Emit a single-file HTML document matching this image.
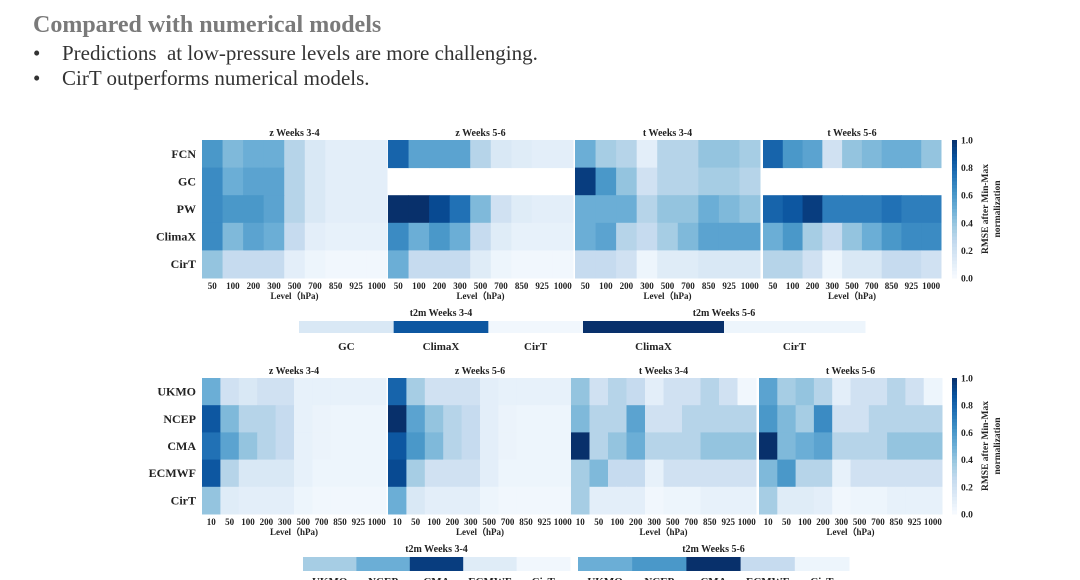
<!DOCTYPE html>
<html><head><meta charset="utf-8">
<style>
html,body{margin:0;padding:0;background:#fff;}
body{width:1080px;height:580px;overflow:hidden;position:relative;font-family:"Liberation Serif",serif;}
#title{position:absolute;left:33px;top:12px;font-size:24px;font-weight:bold;color:#7a7a7a;margin:0;}
.bl{position:absolute;left:33px;font-size:21px;color:#333;}
.bl span{display:inline-block;width:29px;}
svg{position:absolute;left:0;top:0;}
</style></head>
<body>
<h1 id="title">Compared with numerical models</h1>
<div class="bl" style="top:41px"><span>•</span>Predictions&nbsp; at low-pressure levels are more challenging.</div>
<div class="bl" style="top:66px"><span>•</span>CirT outperforms numerical models.</div>
<svg id="chart" width="1080" height="580"></svg>
<script>
// ---- data ----
const topModels = ["FCN","GC","PW","ClimaX","CirT"];
const topLevels = ["50","100","200","300","500","700","850","925","1000"];
const topZ34 = [[.6,.45,.5,.5,.3,.15,.1,.1,.1],[.65,.5,.55,.55,.3,.15,.1,.1,.1],[.65,.6,.6,.55,.3,.15,.1,.1,.1],[.65,.45,.55,.5,.25,.1,.08,.08,.08],[.4,.25,.25,.25,.1,.05,.03,.03,.03]];
const topZ56 = [[.8,.55,.55,.55,.3,.15,.12,.1,.1],null,[1,1,.9,.75,.45,.2,.12,.1,.1],[.65,.5,.6,.5,.25,.12,.08,.08,.08],[.5,.25,.25,.25,.12,.05,.03,.03,.03]];
const topT34 = [[.5,.35,.3,.1,.3,.3,.4,.4,.35],[.95,.6,.4,.2,.3,.3,.35,.35,.3],[.5,.5,.5,.3,.4,.4,.5,.45,.4],[.5,.55,.3,.25,.35,.45,.55,.55,.55],[.25,.25,.2,.05,.12,.12,.15,.15,.15]];
const topT56 = [[.8,.6,.55,.2,.4,.45,.5,.5,.4],null,[.8,.85,.95,.7,.7,.7,.75,.7,.7],[.5,.6,.35,.25,.4,.5,.6,.65,.65],[.3,.3,.2,.05,.15,.15,.25,.25,.2]];
const topT2mCats34 = ["GC","ClimaX","CirT"];
const topT2m34 = [.15,.85,.03];
const topT2mCats56 = ["ClimaX","CirT"];
const topT2m56 = [1,.05];
const botModels = ["UKMO","NCEP","CMA","ECMWF","CirT"];
const botLevels = ["10","50","100","200","300","500","700","850","925","1000"];
const botZ34 = [[.5,.2,.15,.2,.2,.08,.08,.08,.08,.08],[.85,.45,.3,.3,.25,.08,.06,.05,.05,.05],[.75,.55,.4,.3,.25,.08,.06,.05,.05,.05],[.85,.3,.15,.15,.15,.08,.05,.05,.05,.05],[.4,.12,.1,.1,.1,.05,.03,.03,.03,.03]];
const botZ56 = [[.8,.35,.2,.2,.2,.1,.08,.08,.08,.08],[1,.55,.4,.3,.25,.1,.06,.05,.05,.05],[.85,.6,.45,.3,.25,.1,.06,.05,.05,.05],[.9,.35,.2,.2,.2,.1,.05,.05,.05,.05],[.5,.15,.1,.1,.1,.05,.03,.03,.03,.03]];
const botT34 = [[.4,.2,.3,.25,.1,.2,.2,.3,.2,.03],[.45,.3,.3,.55,.2,.2,.3,.3,.3,.3],[1,.3,.4,.5,.3,.3,.3,.4,.4,.4],[.35,.45,.25,.25,.08,.2,.2,.2,.2,.2],[.35,.1,.1,.1,.03,.05,.05,.08,.08,.08]];
const botT56 = [[.55,.35,.4,.3,.1,.2,.2,.3,.2,.05],[.6,.45,.35,.65,.2,.2,.3,.3,.3,.3],[1,.45,.5,.55,.3,.3,.3,.4,.4,.4],[.45,.6,.3,.3,.08,.2,.2,.2,.2,.2],[.35,.12,.12,.1,.03,.05,.05,.08,.08,.08]];
const botT2mCats = ["UKMO","NCEP","CMA","ECMWF","CirT"];
const botT2m34 = [.35,.5,.95,.12,.03];
const botT2m56 = [.5,.6,1,.25,.05];
const cbTicks = ["0.0","0.2","0.4","0.6","0.8","1.0"];

// ---- helpers ----
const stops=["#f7fbff","#deebf7","#c6dbef","#9ecae1","#6baed6","#4292c6","#2171b5","#08519c","#08306b"];
function hex(h){return [1,3,5].map(i=>parseInt(h.substr(i,2),16));}
function blues(v){v=Math.max(0,Math.min(1,v));const p=v*8,i=Math.min(7,Math.floor(p)),f=p-i;const a=hex(stops[i]),b=hex(stops[i+1]);return "rgb("+a.map((c,k)=>Math.round(c+(b[k]-c)*f)).join(",")+")";}
const svg=document.getElementById('chart');
const NS="http://www.w3.org/2000/svg";
function mk(tag,attrs,parent){const e=document.createElementNS(NS,tag);for(const k in attrs)e.setAttribute(k,attrs[k]);(parent||svg).appendChild(e);return e;}
function txt(s,x,y,size,anchor,parent){const t=mk('text',{x:x,y:y,'font-size':size,'font-weight':'bold','text-anchor':anchor||'middle','font-family':'"Liberation Serif",serif',fill:'#222'},parent);t.textContent=s;return t;}

function heatmap(name,title,data,levels,x0,x1,y0,y1){
  const g=mk('g',{});
  
  
  const nc=levels.length,nr=data.length;
  const xs=i=>x0+(x1-x0)*i/nc, ys=j=>y0+(y1-y0)*j/nr;
  data.forEach((row,j)=>{ if(!row) return; row.forEach((v,i)=>{
    const r=mk('rect',{x:xs(i),y:ys(j),width:xs(i+1)-xs(i)+0.5,height:ys(j+1)-ys(j)+0.5,fill:blues(v)},g);
    
    
  });});
  const t=txt(title,(x0+x1)/2,y0-4,10,'middle',g);
  
  
  levels.forEach((l,i)=>{const tk=txt(l,(xs(i)+xs(i+1))/2,y1+11,9,'middle',g);
    
    });
  const xl=txt('Level（hPa)',(x0+x1)/2,y1+21,9,'middle',g);
  
  
}
function rowLabels(models,y0,y1){
  models.forEach((m,j)=>{const t=txt(m,196,y0+(y1-y0)*(j+.5)/models.length+4,12,'end');
    
    });
}
function strip(name,title,cats,vals,x0,x1,y0,y1,labelY){
  const g=mk('g',{});
  
  
  const w=(x1-x0)/cats.length;
  vals.forEach((v,i)=>{const r=mk('rect',{x:x0+w*i,y:y0,width:w+0.5,height:y1-y0,fill:blues(v)},g);
    
    
    const l=txt(cats[i],x0+w*(i+.5),labelY,11,'middle',g);
    
    });
  const t=txt(title,(x0+x1)/2,y0-5,10,'middle',g);
  
  
}
function colorbar(name,y0,y1){
  const g=mk('g',{});
  
  
  const n=40;
  for(let i=0;i<n;i++){mk('rect',{x:952,y:y0+(y1-y0)*i/n,width:5,height:(y1-y0)/n+0.5,fill:blues(1-(i+.5)/n)},g);}
  cbTicks.forEach(s=>{const v=parseFloat(s);const t=txt(s,961,y1-(y1-y0)*v+3.5,9.5,'start',g);
    
    });
  const cy=(y0+y1)/2;
  const a=txt('RMSE after Min-Max',0,0,9.5,'middle',g);a.setAttribute('transform','translate(988,'+cy+') rotate(-90)');
  
  
  const b=txt('normalization',0,0,9.5,'middle',g);b.setAttribute('transform','translate(1000,'+cy+') rotate(-90)');
  
  
}
// top
const TY0=140,TY1=278;
heatmap('top-z-weeks-3-4','z Weeks 3-4',topZ34,topLevels,202,387,TY0,TY1);
heatmap('top-z-weeks-5-6','z Weeks 5-6',topZ56,topLevels,388,573,TY0,TY1);
heatmap('top-t-weeks-3-4','t Weeks 3-4',topT34,topLevels,575,760,TY0,TY1);
heatmap('top-t-weeks-5-6','t Weeks 5-6',topT56,topLevels,763,941,TY0,TY1);
rowLabels(topModels,TY0,TY1);
colorbar('top-colorbar',TY0,TY1);
strip('top-t2m-weeks-3-4','t2m Weeks 3-4',topT2mCats34,topT2m34,299,583,321,333,350);
strip('top-t2m-weeks-5-6','t2m Weeks 5-6',topT2mCats56,topT2m56,583,865,321,333,350);
// bottom
const BY0=378,BY1=514;
heatmap('bottom-z-weeks-3-4','z Weeks 3-4',botZ34,botLevels,202,386,BY0,BY1);
heatmap('bottom-z-weeks-5-6','z Weeks 5-6',botZ56,botLevels,388,572,BY0,BY1);
heatmap('bottom-t-weeks-3-4','t Weeks 3-4',botT34,botLevels,571,756,BY0,BY1);
heatmap('bottom-t-weeks-5-6','t Weeks 5-6',botT56,botLevels,759,942,BY0,BY1);
rowLabels(botModels,BY0,BY1);
colorbar('bottom-colorbar',BY0,BY1);
strip('bottom-t2m-weeks-3-4','t2m Weeks 3-4',botT2mCats,botT2m34,303,570,557,571,585);
strip('bottom-t2m-weeks-5-6','t2m Weeks 5-6',botT2mCats,botT2m56,578,849,557,571,585);
</script>
</body></html>
